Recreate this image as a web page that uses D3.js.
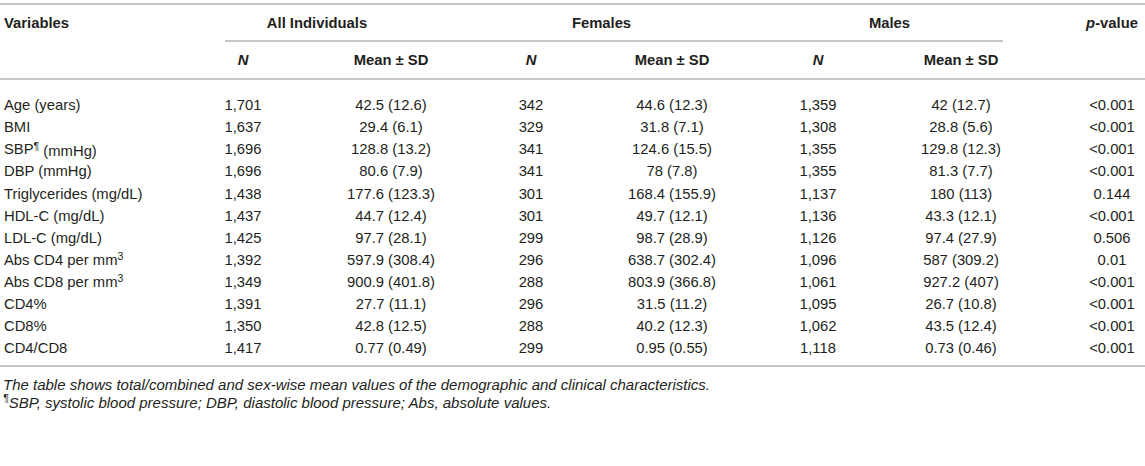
<!DOCTYPE html>
<html>
<head>
<meta charset="utf-8">
<script src="https://cdn.jsdelivr.net/npm/d3@7"></script>
<style>
  body { margin: 0; background: #fff; }
  svg text { font-family: "Liberation Sans", Arial, sans-serif; fill: #231f20; }
</style>
</head>
<body>
<svg id="table-svg"></svg>
<script>
const width = 1145
const height = 466

// table values
const variables = ["Age (years)", "BMI", "SBP¶ (mmHg)", "DBP (mmHg)", "Triglycerides (mg/dL)", "HDL-C (mg/dL)",
                   "LDL-C (mg/dL)", "Abs CD4 per mm3", "Abs CD8 per mm3", "CD4%", "CD8%", "CD4/CD8"]
const allN = ["1,701", "1,637", "1,696", "1,696", "1,438", "1,437", "1,425", "1,392", "1,349", "1,391", "1,350", "1,417"]
const allMean = ["42.5 (12.6)", "29.4 (6.1)", "128.8 (13.2)", "80.6 (7.9)", "177.6 (123.3)", "44.7 (12.4)",
                 "97.7 (28.1)", "597.9 (308.4)", "900.9 (401.8)", "27.7 (11.1)", "42.8 (12.5)", "0.77 (0.49)"]
const femaleN = ["342", "329", "341", "341", "301", "301", "299", "296", "288", "296", "288", "299"]
const femaleMean = ["44.6 (12.3)", "31.8 (7.1)", "124.6 (15.5)", "78 (7.8)", "168.4 (155.9)", "49.7 (12.1)",
                    "98.7 (28.9)", "638.7 (302.4)", "803.9 (366.8)", "31.5 (11.2)", "40.2 (12.3)", "0.95 (0.55)"]
const maleN = ["1,359", "1,308", "1,355", "1,355", "1,137", "1,136", "1,126", "1,096", "1,061", "1,095", "1,062", "1,118"]
const maleMean = ["42 (12.7)", "28.8 (5.6)", "129.8 (12.3)", "81.3 (7.7)", "180 (113)", "43.3 (12.1)",
                  "97.4 (27.9)", "587 (309.2)", "927.2 (407)", "26.7 (10.8)", "43.5 (12.4)", "0.73 (0.46)"]
const pValues = ["<0.001", "<0.001", "<0.001", "<0.001", "0.144", "<0.001", "0.506", "0.01", "<0.001", "<0.001", "<0.001", "<0.001"]

const groups = ["All Individuals", "Females", "Males"]
const footnotes = ["The table shows total/combined and sex-wise mean values of the demographic and clinical characteristics.",
                   "¶SBP, systolic blood pressure; DBP, diastolic blood pressure; Abs, absolute values."]

const svg = d3.select("#table-svg")
            .attr("width", width)
            .attr("height", height);

const fs = 14.8

// column centres
const colKeys = ["var", "allN", "allMean", "femN", "femMean", "maleN", "maleMean", "p"]
const colX = d3.scaleOrdinal()
               .domain(colKeys)
               .range([4, 243, 391, 531, 672, 818, 961, 1112])

const y = d3.scalePoint()
            .domain(variables)
            .range([105, 348])

const lineColor = "#b3b3b3"

function hline(x1, x2, yy) {
    svg.append("line")
       .attr("x1", x1).attr("x2", x2)
       .attr("y1", yy).attr("y2", yy)
       .attr("stroke", lineColor)
       .attr("stroke-width", 1.6)
}

hline(0, width, 4)
hline(225, 1003, 41)
hline(0, width, 79)
hline(0, width, 366)

// header row 1
svg.append("text")
   .attr("x", colX("var")).attr("y", 23)
   .attr("dy", "0.35em")
   .attr("font-size", fs).attr("font-weight", "bold")
   .text("Variables")

const groupCentres = [[colX("allN"), colX("allMean")], [colX("femN"), colX("femMean")], [colX("maleN"), colX("maleMean")]]
svg.selectAll("text.group")
   .data(groups)
   .enter()
   .append("text")
   .attr("class", "group")
   .attr("x", (d, i) => (groupCentres[i][0] + groupCentres[i][1]) / 2)
   .attr("y", 23)
   .attr("dy", "0.35em")
   .attr("text-anchor", "middle")
   .attr("font-size", fs).attr("font-weight", "bold")
   .text(d => d)

const pHead = svg.append("text")
   .attr("x", colX("p")).attr("y", 23)
   .attr("dy", "0.35em")
   .attr("text-anchor", "middle")
   .attr("font-size", fs).attr("font-weight", "bold")
pHead.append("tspan").attr("font-style", "italic").text("p")
pHead.append("tspan").text("-value")

// header row 2
const subHeads = [["allN", "N"], ["allMean", "Mean ± SD"], ["femN", "N"], ["femMean", "Mean ± SD"], ["maleN", "N"], ["maleMean", "Mean ± SD"]]
svg.selectAll("text.sub")
   .data(subHeads)
   .enter()
   .append("text")
   .attr("class", "sub")
   .attr("x", d => colX(d[0]))
   .attr("y", 60)
   .attr("dy", "0.35em")
   .attr("text-anchor", "middle")
   .attr("font-size", fs).attr("font-weight", "bold")
   .attr("font-style", d => d[1] === "N" ? "italic" : "normal")
   .text(d => d[1])

// body rows
const rows = variables.map((v, i) => ({
    v: v, allN: allN[i], allMean: allMean[i], femN: femaleN[i], femMean: femaleMean[i],
    maleN: maleN[i], maleMean: maleMean[i], p: pValues[i]
}))

const row = svg.selectAll("g.row")
               .data(rows)
               .enter()
               .append("g")
               .attr("class", "row")
               .attr("transform", d => `translate(0,${y(d.v)})`)

// variable names, with superscripts
row.append("text")
   .attr("x", colX("var"))
   .attr("dy", "0.35em")
   .attr("font-size", fs)
   .each(function(d) {
       const t = d3.select(this)
       if (d.v.includes("¶")) {
           const parts = d.v.split("¶")
           t.append("tspan").text(parts[0])
           t.append("tspan").attr("font-size", 10.5).attr("dy", "-0.45em").text("¶")
           t.append("tspan").attr("dy", "0.45em").text(parts[1])
       } else if (d.v.endsWith("mm3")) {
           t.append("tspan").text(d.v.slice(0, -1))
           t.append("tspan").attr("font-size", 10.5).attr("dy", "-0.5em").text("3")
       } else {
           t.text(d.v)
       }
   })

colKeys.slice(1).forEach(k => {
    row.append("text")
       .attr("x", colX(k))
       .attr("dy", "0.35em")
       .attr("text-anchor", "middle")
       .attr("font-size", fs)
       .text(d => d[k])
})

// footnotes
svg.append("text")
   .attr("x", 3).attr("y", 385)
   .attr("dy", "0.35em")
   .attr("font-size", 15).attr("font-style", "italic")
   .text(footnotes[0])

const fn2 = svg.append("text")
   .attr("x", 3).attr("y", 406)
   .attr("dy", "0.35em")
   .attr("font-size", 15).attr("font-style", "italic")
fn2.append("tspan").attr("font-size", 10.5).attr("dy", "-0.4em").text("¶")
fn2.append("tspan").attr("dy", "0.4em").text(footnotes[1].slice(1))
</script>
</body>
</html>
